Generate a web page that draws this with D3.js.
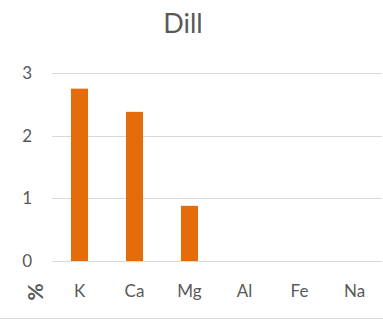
<!DOCTYPE html>
<html>
<head>
<meta charset="utf-8">
<script src="https://cdn.jsdelivr.net/npm/d3@7"></script>
<style>
  body { margin: 0; background: #fff; }
  text { font-family: Lato, "Open Sans", sans-serif; fill: #595959; }
</style>
</head>
<body>
<div id="chart"></div>
<script>
// data
var elements = ["K", "Ca", "Mg", "Al", "Fe", "Na"];
var values = [2.75, 2.38, 0.88, 0, 0, 0];
var yTicks = [0, 1, 2, 3];

var W = 383, H = 320;
var margin = {top: 73, right: 1, bottom: 59, left: 52};
var width = W - margin.left - margin.right,
    height = H - margin.top - margin.bottom;

var svg = d3.select("#chart").append("svg")
    .attr("width", W)
    .attr("height", H);

// title
svg.append("text")
    .attr("x", 183)
    .attr("y", 33)
    .attr("text-anchor", "middle")
    .style("font-size", "27px")
    .text("Dill");

var g = svg.append("g")
    .attr("transform", "translate(" + margin.left + "," + margin.top + ")");

var x = d3.scaleBand()
    .domain(elements)
    .range([0, width])
    .paddingInner(0.69)
    .paddingOuter(0.345);

var y = d3.scaleLinear()
    .domain([0, 3])
    .range([height, 0]);

// gridlines
g.append("g")
  .selectAll("line")
  .data(yTicks)
  .enter().append("line")
    .attr("x1", 0)
    .attr("x2", width)
    .attr("y1", function(d) { return Math.round(y(d)) + 0.5; })
    .attr("y2", function(d) { return Math.round(y(d)) + 0.5; })
    .attr("stroke", "#d9d9d9")
    .attr("stroke-width", 1);

// y tick labels
var yAxis = g.append("g")
    .call(d3.axisLeft(y).tickValues(yTicks).tickSize(0).tickPadding(20).tickFormat(d3.format("d")));
yAxis.select(".domain").remove();
yAxis.selectAll("text")
    .style("font-size", "17px")
    .attr("fill", "#595959");

// bars
g.append("g")
  .selectAll("rect")
  .data(values)
  .enter().append("rect")
    .attr("x", function(d, i) { return x(elements[i]); })
    .attr("y", function(d) { return y(d); })
    .attr("width", x.bandwidth())
    .attr("height", function(d) { return height - y(d); })
    .attr("fill", "#e46c0a");

// category labels
var xAxis = g.append("g")
    .attr("transform", "translate(0," + height + ")")
    .call(d3.axisBottom(x).tickSize(0).tickPadding(24));
xAxis.select(".domain").remove();
xAxis.selectAll("text")
    .style("font-size", "17px")
    .attr("fill", "#595959");

// unit label
svg.append("text")
    .attr("transform", "translate(43,292) rotate(-90)")
    .attr("text-anchor", "middle")
    .style("font-size", "21px")
    .style("font-weight", "bold")
    .text("%");

// bottom border
svg.append("line")
    .attr("x1", 0).attr("x2", W)
    .attr("y1", 318.5).attr("y2", 318.5)
    .attr("stroke", "#d9d9d9");
</script>
</body>
</html>
